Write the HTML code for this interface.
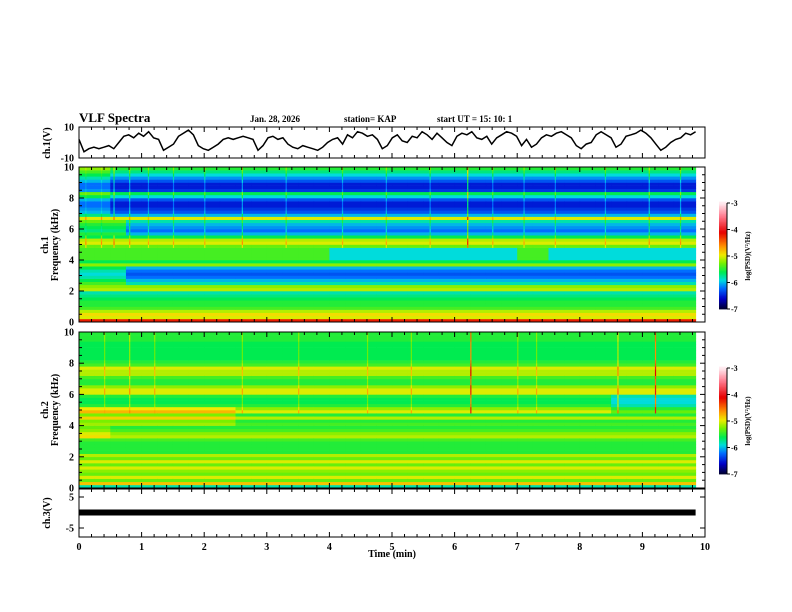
<!DOCTYPE html>
<html><head><meta charset="utf-8">
<style>
html,body{margin:0;padding:0;background:#fff;}
svg{display:block;font-family:"Liberation Serif",serif;font-weight:bold;}
</style></head>
<body>
<svg id="chart" width="792" height="612" viewBox="0 0 792 612" xmlns="http://www.w3.org/2000/svg">
<g id="spec"></g>
<g id="lines"></g>
<g id="axes"></g>
<g id="cbars"></g>
<text x="79" y="122" font-size="13">VLF Spectra</text>
<text x="250" y="122" font-size="9">Jan. 28, 2026</text>
<text x="344" y="122" font-size="9">station= KAP</text>
<text x="437" y="122" font-size="9">start UT =  15: 10: 1</text>
<text x="392" y="557" font-size="10" text-anchor="middle">Time (min)</text>
<text transform="translate(50,143) rotate(-90)" font-size="10" text-anchor="middle">ch.1(V)</text>
<text transform="translate(48,245) rotate(-90)" font-size="10" text-anchor="middle">ch.1</text>
<text transform="translate(58,245) rotate(-90)" font-size="10" text-anchor="middle">Frequency (kHz)</text>
<text transform="translate(48,410) rotate(-90)" font-size="10" text-anchor="middle">ch.2</text>
<text transform="translate(58,410) rotate(-90)" font-size="10" text-anchor="middle">Frequency (kHz)</text>
<text transform="translate(50,513) rotate(-90)" font-size="10" text-anchor="middle">ch.3(V)</text>
</svg>
<script>
// ---- data ----
var freqRows = 50; // 0.2 kHz bins from 0 to 10 kHz
var ch1Profile = [-4.2,-5.0,-4.9,-5.1,-5.4,-5.5,-5.5,-5.6,-5.7,-5.8,-5.1,-5.2,-5.8,-6.0,-6.2,-6.3,-6.2,-6.0,-5.2,-5.6,-5.4,-5.4,-5.4,-5.4,-5.3,-5.0,-5.1,-5.6,-6.0,-6.2,-6.1,-6.0,-5.8,-5.0,-6.0,-6.3,-6.4,-6.5,-6.5,-6.3,-5.9,-5.6,-6.4,-6.5,-6.5,-6.3,-6.1,-5.9,-5.7,-5.5];
var ch2Profile = [-5.8,-4.8,-5.3,-5.0,-5.3,-5.2,-5.0,-5.3,-5.0,-5.3,-5.1,-5.5,-5.5,-5.5,-5.5,-5.4,-5.1,-5.2,-5.4,-5.5,-5.4,-5.5,-5.1,-5.5,-5.0,-5.2,-5.5,-5.6,-5.6,-5.5,-5.0,-5.0,-5.2,-5.5,-5.5,-5.4,-5.1,-5.1,-5.0,-5.4,-5.5,-5.6,-5.6,-5.6,-5.6,-5.6,-5.6,-5.5,-5.5,-5.5];
// patches: [t0, t1, row0, row1, delta]
var ch1Patches = [[0,0.65,28,32,0.5],[0,0.7,12,17,0.4],[4.0,7.0,20,23,-0.5],[7.6,9.85,20,23,-0.5],[0,0.6,34,49,0.3]];
var ch2Patches = [[0,2.55,20,25,0.25],[8.5,9.85,24,29,-0.3],[0,0.5,16,19,0.2]];
var ch1StreakTimes = [0.1,0.35,0.55,0.8,1.1,1.5,2.0,2.6,3.3,4.2,4.9,5.6,6.2,6.6,7.1,7.6,8.4,9.1,9.6];
var ch1StreakGain = [0.4,0.4,0.5,0.4,0.3,0.3,0.3,0.4,0.3,0.3,0.3,0.3,0.8,0.3,0.3,0.3,0.3,0.4,0.4];
var ch2StreakTimes = [0.4,0.8,1.2,2.6,3.5,4.6,5.3,6.25,7.0,7.3,8.6,9.2];
var ch2StreakGain = [0.3,0.4,0.3,0.3,0.3,0.3,0.3,1.0,0.3,0.3,0.5,1.0];
var timeBins = [0,0.25,0.5,0.75,1,1.25,1.5,1.75,2,2.25,2.5,2.75,3,3.25,3.5,3.75,4,4.25,4.5,4.75,5,5.25,5.5,5.75,6,6.25,6.5,6.75,7,7.25,7.5,7.75,8,8.25,8.5,8.75,9,9.25,9.5,9.85];
var ch1Times = [];
var ch1Volts = [2,-6,-4,-3,-4,-3,-2,-4,0,4,5,3,6,4,7,3,2,-5,-3,-1,4,6,8,5,-2,-4,-5,-3,-1,2,3,2,3,4,3,2,-5,-2,3,4,2,3,-1,-3,-4,-2,-3,-4,-5,-3,0,2,3,-1,5,3,7,6,4,5,2,-4,-2,3,5,1,0,4,3,7,5,2,6,3,0,-2,4,6,5,7,3,2,4,-1,3,5,7,6,4,-2,2,-3,-1,3,5,4,6,7,5,3,-2,-4,-1,0,5,7,5,3,-3,-1,4,5,6,8,6,3,-1,-5,-3,0,2,3,6,5,7];
for (var i=0;i<ch1Volts.length;i++) ch1Times.push(i*9.85/(ch1Volts.length-1));
var ch3Times = [0,9.85];
var ch3Volts = [0,0];
var cbTicks = [-3,-4,-5,-6,-7];
var xTicks = [0,1,2,3,4,5,6,7,8,9,10];

// ---- axes functions ----
var X0=79,X1=705;
function xs(t){return X0+(X1-X0)*t/10;}
function fy(top,bot){return function(f){return bot-(bot-top)*f/10;};}
var p1={top:127,bot:158,min:-10,max:10};
var s1={top:167,bot:322}, s2={top:332,bot:488};
var p3={top:489,bot:537};
function y1(v){return p1.bot-(p1.bot-p1.top)*(v-p1.min)/(p1.max-p1.min);}
function y3(v){return 512.5-(v)*3.1;}

var stops=[[-7,[0,0,40]],[-6.6,[0,0,200]],[-6.2,[0,110,255]],[-5.9,[0,220,220]],[-5.6,[0,235,80]],[-5.25,[120,240,0]],[-4.95,[240,235,0]],[-4.6,[255,140,0]],[-4.1,[230,0,0]],[-3.5,[255,120,140]],[-3,[255,235,240]]];
function cmap(v){
  if(v<=stops[0][0])return 'rgb('+stops[0][1]+')';
  for(var i=1;i<stops.length;i++){if(v<=stops[i][0]){var a=stops[i-1],b=stops[i],u=(v-a[0])/(b[0]-a[0]);
    return 'rgb('+[0,1,2].map(function(k){return Math.round(a[1][k]+(b[1][k]-a[1][k])*u);}).join(',')+')';}}
  return 'rgb('+stops[stops.length-1][1]+')';
}
var NS='http://www.w3.org/2000/svg';
function mk(tag,attrs,parent){var e=document.createElementNS(NS,tag);for(var k in attrs)e.setAttribute(k,attrs[k]);parent.appendChild(e);return e;}

function drawSpec(prof,patches,sTimes,sGain,box,name){
  var g=mk('g',{},document.getElementById('spec'));
  
  
  var fyf=fy(box.top,box.bot);
  for(var c=0;c<timeBins.length-1;c++){
    var t0=timeBins[c],t1=timeBins[c+1],tm=(t0+t1)/2;
    for(var r=0;r<freqRows;r++){
      var v=prof[r];
      patches.forEach(function(p){if(tm>=p[0]&&tm<p[1]&&r>=p[2]&&r<=p[3])v+=p[4];});
      var rect=mk('rect',{x:xs(t0),y:fyf((r+1)*0.2),width:xs(t1)-xs(t0)+0.5,height:fyf(r*0.2)-fyf((r+1)*0.2)+0.3,fill:cmap(v)},g);
      
      
    }
  }
  for(var s=0;s<sTimes.length;s++){
    for(var r=24;r<freqRows;r++){
      var sr=mk('rect',{x:xs(sTimes[s]),y:fyf((r+1)*0.2),width:1.2,height:fyf(r*0.2)-fyf((r+1)*0.2)+0.3,fill:cmap(prof[r]+sGain[s])},g);
      
      
    }
  }
}
drawSpec(ch1Profile,ch1Patches,ch1StreakTimes,ch1StreakGain,s1,'ch1-spectrogram');
drawSpec(ch2Profile,ch2Patches,ch2StreakTimes,ch2StreakGain,s2,'ch2-spectrogram');

var L=document.getElementById('lines');
var d=ch1Times.map(function(t,i){return (i?'L':'M')+xs(t).toFixed(1)+','+y1(ch1Volts[i]).toFixed(1);}).join('');
var pl=mk('path',{d:d,fill:'none',stroke:'#000','stroke-width':1.5},L);


var d3=ch3Times.map(function(t,i){return (i?'L':'M')+xs(t)+','+y3(ch3Volts[i]);}).join('');
var p3l=mk('path',{d:d3,fill:'none',stroke:'#000','stroke-width':6},L);



// axes
var A=document.getElementById('axes');
function box(top,bot,name){var b=mk('rect',{x:X0,y:top,width:X1-X0,height:bot-top,fill:'none',stroke:'#000','stroke-width':1},A);
  
  }
box(p1.top,p1.bot,'ch1-voltage-panel');box(s1.top,s1.bot,'ch1-spectrogram-frame');box(s2.top,s2.bot,'ch2-spectrogram-frame');box(p3.top,p3.bot,'ch3-voltage-panel');
[[p1.top,p1.bot],[s1.top,s1.bot],[s2.top,s2.bot],[p3.top,p3.bot]].forEach(function(pb){
  for(var t=0;t<=10.001;t+=0.2){var maj=Math.abs(t-Math.round(t))<0.01;var len=maj?5:3;
    mk('line',{x1:xs(t),x2:xs(t),y1:pb[0],y2:pb[0]+len,stroke:'#000'},A);
    mk('line',{x1:xs(t),x2:xs(t),y1:pb[1],y2:pb[1]-len,stroke:'#000'},A);}
});
xTicks.forEach(function(t){var tx=mk('text',{x:xs(t),y:550,'font-size':10,'text-anchor':'middle'},A);tx.textContent=t;
  
  });
function ylab(y,txt){var tx=mk('text',{x:74,y:y+3.5,'font-size':10,'text-anchor':'end'},A);tx.textContent=txt;
  
  }
ylab(y1(10),'10');ylab(y1(-10),'-10');
[s1,s2].forEach(function(b){var f=fy(b.top,b.bot);
  for(var k=0;k<=10;k+=0.5){var maj=k%2===0;var len=maj?5:3;
    mk('line',{x1:X0,x2:X0+len,y1:f(k),y2:f(k),stroke:'#000'},A);mk('line',{x1:X1,x2:X1-len,y1:f(k),y2:f(k),stroke:'#000'},A);
    if(maj)ylab(f(k),String(k));}
});
ylab(y3(5),'5');ylab(y3(-5),'-5');
[y3(5),y3(-5)].forEach(function(y){mk('line',{x1:X0,x2:X0+5,y1:y,y2:y,stroke:'#000'},A);mk('line',{x1:X1,x2:X1-5,y1:y,y2:y,stroke:'#000'},A);});

// colorbars
var C=document.getElementById('cbars');
[[203,309],[368,474]].forEach(function(cb,ci){
  var top=cb[0],bot=cb[1];
  function cy(v){return top+(bot-top)*(-3-v)/4;}
  for(var v=-7;v<-3;v+=0.05){mk('rect',{x:719,y:cy(v+0.05),width:8,height:(bot-top)*0.05/4+0.4,fill:cmap(v+0.025)},C);}
  mk('line',{x1:727,x2:727,y1:top,y2:bot,stroke:'#000'},C);
  cbTicks.forEach(function(t){mk('line',{x1:727,x2:730,y1:cy(t),y2:cy(t),stroke:'#000'},C);
    var tx=mk('text',{x:731,y:cy(t)+3,'font-size':8},C);tx.textContent=String(t);
    
    });
  var tt=mk('text',{transform:'translate(750,'+((top+bot)/2)+') rotate(-90)','font-size':7,'text-anchor':'middle'},C);
  tt.textContent='log(PSD)(V\u00B2/Hz)';
  
  
});
</script>
</body></html>
